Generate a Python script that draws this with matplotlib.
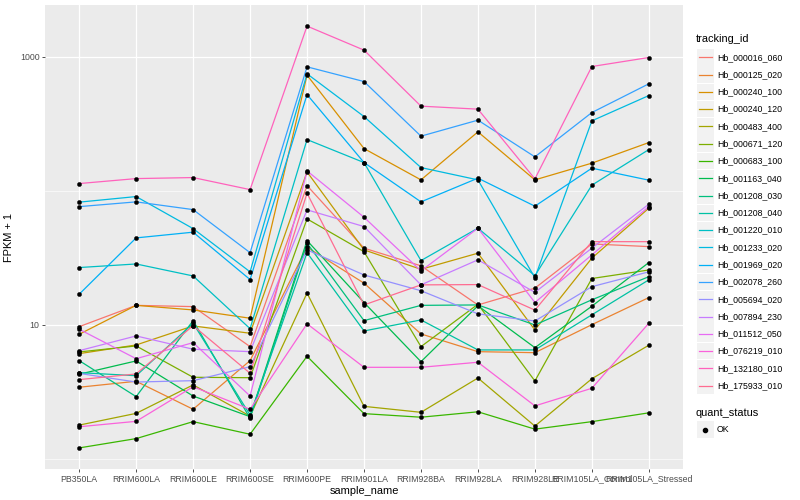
import matplotlib
matplotlib.use("Agg")
import matplotlib.pyplot as plt
from matplotlib.patches import Rectangle
from matplotlib.lines import Line2D
import numpy as np

plt.rcParams['font.family'] = ['Liberation Sans', 'DejaVu Sans']

samples = ["PB350LA", "RRIM600LA", "RRIM600LE", "RRIM600SE", "RRIM600PE",
           "RRIM901LA", "RRIM928BA", "RRIM928LA", "RRIM928LE",
           "RRIM105LA_Control", "RRIM105LA_Stressed"]

tracking_ids = ["Hb_000016_060", "Hb_000125_020", "Hb_000240_100", "Hb_000240_120",
                "Hb_000483_400", "Hb_000671_120", "Hb_000683_100", "Hb_001163_040",
                "Hb_001208_030", "Hb_001208_040", "Hb_001220_010", "Hb_001233_020",
                "Hb_001969_020", "Hb_002078_260", "Hb_005694_020", "Hb_007894_230",
                "Hb_011512_050", "Hb_076219_010", "Hb_132180_010", "Hb_175933_010"]

colors = ["#F8766D", "#EA8331", "#D89000", "#C09B00", "#A3A500", "#7CAE00", "#39B600",
          "#00BB4E", "#00BF7D", "#00C1A3", "#00BFC4", "#00BAE0", "#00B0F6", "#35A2FF",
          "#9590FF", "#C77CFF", "#E76BF3", "#FA62DB", "#FF62BC", "#FF6C91"]

# FPKM + 1 per sample (in sample order)
Hb_000016_060 = [9.71, 14.0, 13.7, 6.89, 109.5, 37.4, 27.6, 14.1, 18.8, 40.2, 38.4]
Hb_000125_020 = [3.43, 3.80, 2.35, 5.42, 38.0, 20.5, 8.57, 6.32, 6.21, 10.05, 16.0]
Hb_000240_100 = [8.52, 14.0, 12.94, 11.22, 730, 206.9, 120.8, 275.6, 120.8, 161, 229.3]
Hb_000240_120 = [6.11, 7.09, 9.83, 8.67, 138.6, 36.3, 26.0, 34.3, 9.18, 31.5, 74.3]
Hb_000483_400 = [1.79, 2.19, 3.57, 2.09, 17.3, 2.47, 2.23, 4.02, 1.76, 3.97, 7.06]
Hb_000671_120 = [6.29, 6.97, 4.07, 4.04, 61.8, 35.2, 6.89, 14.27, 3.82, 22.2, 25.7]
Hb_000683_100 = [1.21, 1.42, 1.90, 1.53, 5.84, 2.18, 2.05, 2.25, 1.67, 1.90, 2.21]
Hb_001163_040 = [4.29, 5.39, 2.95, 2.07, 42.6, 14.7, 5.32, 13.9, 6.77, 13.8, 29.2]
Hb_001208_030 = [5.42, 2.92, 10.77, 2.01, 40.7, 10.77, 14.0, 14.1, 10.0, 15.4, 22.9]
Hb_001208_040 = [4.41, 4.18, 10.3, 2.13, 34.6, 9.02, 10.9, 6.51, 6.51, 11.9, 21.7]
Hb_001220_010 = [26.8, 28.5, 23.2, 9.38, 241.4, 162.7, 30.2, 52.7, 23.3, 110.3, 203.3]
Hb_001233_020 = [82.4, 90.7, 52.3, 24.9, 747, 358.5, 149.2, 120.8, 22.5, 333, 514]
Hb_001969_020 = [16.95, 44.6, 49.2, 21.8, 523, 162.7, 82.8, 124.4, 76.9, 147.7, 120.2]
Hb_002078_260 = [76.3, 82.8, 72.5, 34.6, 842, 654, 256, 337, 179.4, 384, 629]
Hb_005694_020 = [4.35, 3.75, 3.84, 4.88, 36.3, 23.6, 18.0, 12.1, 10.7, 19.3, 24.9]
Hb_007894_230 = [6.43, 8.28, 6.59, 6.32, 72.2, 54.2, 19.9, 30.6, 17.5, 37.4, 79.6]
Hb_011512_050 = [9.29, 5.60, 7.38, 2.95, 141, 63.6, 25.3, 52.7, 14.7, 33.3, 76.3]
Hb_076219_010 = [1.74, 1.91, 3.46, 2.35, 10.2, 4.83, 4.83, 5.27, 2.49, 3.37, 10.3]
Hb_132180_010 = [113.4, 123.5, 125.7, 102.2, 1695, 1122, 428.5, 407, 122.9, 846.5, 988]
Hb_175933_010 = [3.91, 4.31, 9.88, 4.36, 96.1, 14.1, 19.9, 20.0, 12.9, 41.8, 41.8]

series = [Hb_000016_060, Hb_000125_020, Hb_000240_100, Hb_000240_120, Hb_000483_400,
          Hb_000671_120, Hb_000683_100, Hb_001163_040, Hb_001208_030, Hb_001208_040,
          Hb_001220_010, Hb_001233_020, Hb_001969_020, Hb_002078_260, Hb_005694_020,
          Hb_007894_230, Hb_011512_050, Hb_076219_010, Hb_132180_010, Hb_175933_010]

W, H = 800, 500
fig = plt.figure(figsize=(8, 5), dpi=100)
fig.patch.set_facecolor("white")

# panel in pixel coordinates
pl, pr, pt, pb = 45, 683, 5, 469
ax = fig.add_axes([pl / W, (H - pb) / H, (pr - pl) / W, (pb - pt) / H])
ax.set_facecolor("#EBEBEB")
for s in ax.spines.values():
    s.set_visible(False)

x = np.arange(len(samples))
for vals, c in zip(series, colors):
    ax.plot(x, vals, color=c, lw=0.9, solid_capstyle="butt", zorder=3)
for vals in series:
    ax.plot(x, vals, ls="none", marker="o", ms=3.0, mfc="black", mec="black",
            mew=0.3, zorder=4)

ax.set_yscale("log")
allv = np.concatenate([np.asarray(v, float) for v in series])
lmin, lmax = np.log10(allv.min()), np.log10(allv.max())
pad = 0.05 * (lmax - lmin)
ax.set_ylim(10 ** (lmin - pad), 10 ** (lmax + pad))
ax.set_xlim(-0.6, len(samples) - 0.4)

ax.set_yticks([10, 1000])
ax.set_yticklabels(["10", "1000"])
ax.set_yticks([1, 100], minor=True)
ax.yaxis.set_minor_formatter(matplotlib.ticker.NullFormatter())
ax.set_xticks(x)
ax.set_xticklabels(samples)
ax.tick_params(axis="both", which="major", length=2.5, width=0.6, color="#333333",
               labelcolor="#4D4D4D", labelsize=6.3, pad=1.5)
ax.tick_params(axis="y", which="minor", length=0)
ax.grid(True, which="major", color="white", lw=0.9, zorder=0)
ax.grid(True, which="minor", axis="y", color="white", lw=0.45, zorder=0)
ax.set_axisbelow(True)

ax.set_xlabel("sample_name", fontsize=7.9, color="black", labelpad=2)
ax.set_ylabel("FPKM + 1", fontsize=7.9, color="black", labelpad=4)

# legend drawn in pixel coordinates
lax = fig.add_axes([0, 0, 1, 1], frameon=False)
lax.set_xlim(0, W)
lax.set_ylim(H, 0)
lax.set_xticks([])
lax.set_yticks([])
lax.patch.set_alpha(0)

lax.text(696, 39, "tracking_id", fontsize=7.9, va="center", ha="left", color="black")
y0, dy = 57.3, 17.28
for i, (name, c) in enumerate(zip(tracking_ids, colors)):
    yc = y0 + i * dy
    lax.add_patch(Rectangle((697, yc - 8.3), 16.6, 16.6, facecolor="#F2F2F2",
                            edgecolor="none"))
    lax.add_line(Line2D([698.5, 711.5], [yc, yc], color=c, lw=0.9))
    lax.text(717, yc, name, fontsize=6.3, va="center", ha="left", color="black")

lax.text(696, 412.7, "quant_status", fontsize=7.9, va="center", ha="left", color="black")
yc = 429.5
lax.add_patch(Rectangle((697, yc - 8.3), 16.6, 16.6, facecolor="#F2F2F2", edgecolor="none"))
lax.plot([705], [yc], ls="none", marker="o", ms=3.0, mfc="black", mec="black")
lax.text(717, yc, "OK", fontsize=6.3, va="center", ha="left", color="black")

fig.savefig("out.png", dpi=100)
